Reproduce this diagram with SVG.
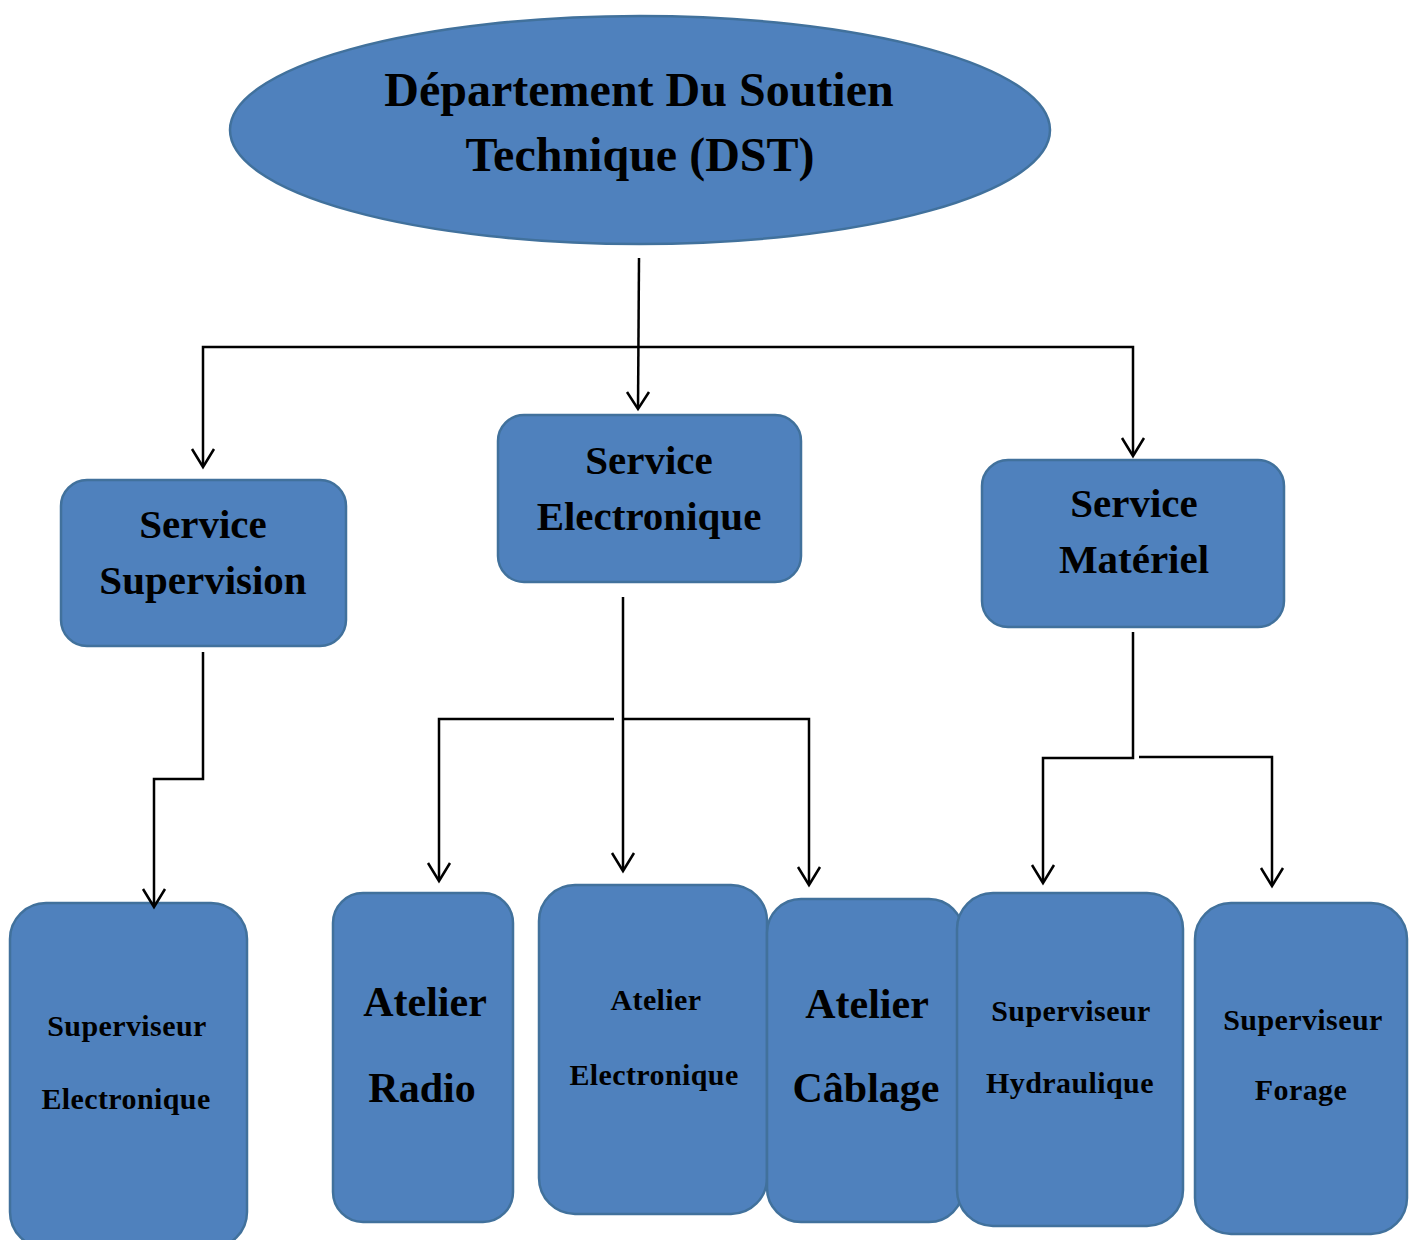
<svg xmlns="http://www.w3.org/2000/svg" width="1415" height="1240" viewBox="0 0 1415 1240">
<style>
.n{fill:#4F81BD;stroke:#41719C;stroke-width:2.5}
.t{font-family:"Liberation Serif","Times New Roman",serif;font-weight:bold;fill:#000;text-anchor:middle}
.s{font-size:30px;letter-spacing:0.4px}
.c{fill:none;stroke:#000;stroke-width:2.5}
</style>
<rect width="1415" height="1240" fill="#fff"/>
<g id="dst">
<ellipse class="n" cx="640" cy="130" rx="410" ry="114"/>
<text class="t" x="639" y="106" font-size="48">Département Du Soutien</text>
<text class="t" x="640" y="171" font-size="48">Technique (DST)</text>
</g>
<g id="svc-supervision">
<rect class="n" x="61" y="480" width="285" height="166" rx="26"/>
<text class="t" x="203" y="538" font-size="41">Service</text>
<text class="t" x="203" y="594" font-size="41">Supervision</text>
</g>
<g id="svc-electronique">
<rect class="n" x="498" y="415" width="303" height="167" rx="26"/>
<text class="t" x="649" y="474" font-size="41">Service</text>
<text class="t" x="649" y="530" font-size="41">Electronique</text>
</g>
<g id="svc-materiel">
<rect class="n" x="982" y="460" width="302" height="167" rx="26"/>
<text class="t" x="1134" y="517" font-size="41">Service</text>
<text class="t" x="1134" y="573" font-size="41">Matériel</text>
</g>
<g id="sup-electronique">
<rect class="n" x="10" y="903" width="237" height="345" rx="36"/>
<text class="t s" x="127" y="1036">Superviseur</text>
<text class="t s" x="126" y="1109">Electronique</text>
</g>
<g id="atelier-radio">
<rect class="n" x="333" y="893" width="180" height="329" rx="30"/>
<text class="t" x="425" y="1016" font-size="42">Atelier</text>
<text class="t" x="422" y="1102" font-size="42">Radio</text>
</g>
<g id="atelier-electronique">
<rect class="n" x="539" y="885" width="228" height="329" rx="36"/>
<text class="t s" x="656" y="1010">Atelier</text>
<text class="t s" x="654" y="1085">Electronique</text>
</g>
<g id="atelier-cablage">
<rect class="n" x="767" y="899" width="196" height="323" rx="34"/>
<text class="t" x="867" y="1018" font-size="42">Atelier</text>
<text class="t" x="866" y="1102" font-size="42">Câblage</text>
</g>
<g id="sup-hydraulique">
<rect class="n" x="957" y="893" width="226" height="333" rx="36"/>
<text class="t s" x="1071" y="1021">Superviseur</text>
<text class="t s" x="1070" y="1093">Hydraulique</text>
</g>
<g id="sup-forage">
<rect class="n" x="1195" y="903" width="212" height="331" rx="36"/>
<text class="t s" x="1303" y="1030">Superviseur</text>
<text class="t s" x="1301" y="1100">Forage</text>
</g>
<g id="connectors">
<path class="c" d="M639,258 L638,408"/>
<path class="c" d="M203,466 L203,347 L1133,347 L1133,455"/>
<path class="c" d="M203,652 L203,779 L154,779 L154,906"/>
<path class="c" d="M623,597 L623,870"/>
<path class="c" d="M614,719 L439,719 L439,880"/>
<path class="c" d="M623,719 L809,719 L809,884"/>
<path class="c" d="M1133,632 L1133,758 L1043,758 L1043,882"/>
<path class="c" d="M1139,757 L1272,757 L1272,885"/>
<g class="c">
<path d="M627,392 L638,409 L649,392"/>
<path d="M192,449 L203,467 L214,449"/>
<path d="M1122,438 L1133,456 L1144,438"/>
<path d="M143,889 L154,907 L165,889"/>
<path d="M612,853 L623,871 L634,853"/>
<path d="M428,863 L439,881 L450,863"/>
<path d="M798,867 L809,885 L820,867"/>
<path d="M1032,865 L1043,883 L1054,865"/>
<path d="M1261,868 L1272,886 L1283,868"/>
</g>
</g>
</svg>
